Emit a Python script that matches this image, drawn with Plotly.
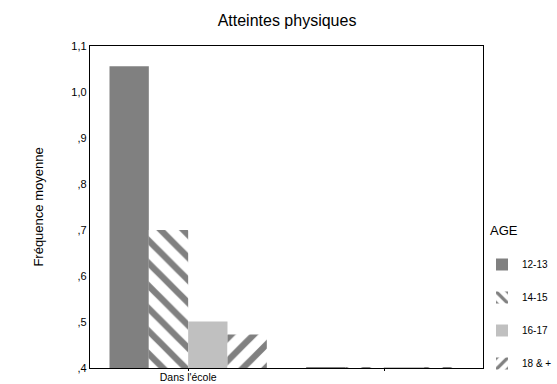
import plotly.graph_objects as go

categories = ["Dans l'école", " "]
ages = ["12-13", "14-15", "16-17", "18 & +"]
values = {
    "12-13": [1.056, 0.402],
    "14-15": [0.700, 0.402],
    "16-17": [0.501, 0.402],
    "18 & +": [0.473, 0.402],
}
tick_vals = [0.4, 0.5, 0.6, 0.7, 0.8, 0.9, 1.0, 1.1]
tick_text = [",4", ",5", ",6", ",7", ",8", ",9", "1,0", "1,1"]

styles = {
    "12-13": dict(color="#808080", pattern=dict(shape="")),
    "14-15": dict(color="white", pattern=dict(shape="\\", fgcolor="#808080", bgcolor="white",
                                              fgopacity=1, size=16, solidity=0.4)),
    "16-17": dict(color="#c0c0c0", pattern=dict(shape="")),
    "18 & +": dict(color="white", pattern=dict(shape="/", fgcolor="#808080", bgcolor="white",
                                               fgopacity=1, size=16, solidity=0.4)),
}

W, H = 557, 384
fig = go.Figure()
for i, a in enumerate(ages):
    st = styles[a]
    fig.add_trace(go.Bar(
        x=categories, y=values[a], name=a, legendgroup=a,
        marker=dict(color=st["color"], pattern=st["pattern"], line=dict(width=0)),
    ))

fig.update_layout(
    width=W, height=H,
    margin=dict(l=0, r=0, t=0, b=0),
    paper_bgcolor="white", plot_bgcolor="white",
    font=dict(family="Liberation Sans, Arial, sans-serif", color="black", size=10),
    title=dict(text="Atteintes physiques", x=287 / W, xanchor="center", y=1 - 20 / H, yanchor="middle",
               font=dict(size=16)),
    barmode="group", bargap=0.2, bargroupgap=0,
    showlegend=True,
    legend=dict(x=483 / W, xanchor="left", y=1 - 250 / H, yanchor="top",
                traceorder="grouped", tracegroupgap=14, font=dict(size=10),
                bgcolor="rgba(0,0,0,0)"),
    annotations=[dict(text="AGE", xref="paper", yref="paper", x=489 / W, y=1 - 230 / H,
                      xanchor="left", yanchor="middle", showarrow=False, font=dict(size=13))],
)
fig.update_xaxes(domain=[90 / W, 484 / W], automargin=False,
                 showline=True, linecolor="black", linewidth=1, mirror=True,
                 ticks="outside", ticklen=2, tickcolor="black", showgrid=False,
                 ticklabelstandoff=-3, tickfont=dict(size=10.5))
fig.update_yaxes(domain=[16 / H, 1 - 46 / H], automargin=False,
                 range=[0.4, 1.1], tickvals=tick_vals, ticktext=tick_text,
                 showline=True, linecolor="black", linewidth=1, mirror=True,
                 ticks="", showgrid=False, zeroline=False, tickfont=dict(size=11),
                 title=dict(text="Fréquence moyenne", font=dict(size=13), standoff=24))

fig.write_html("out.html")
